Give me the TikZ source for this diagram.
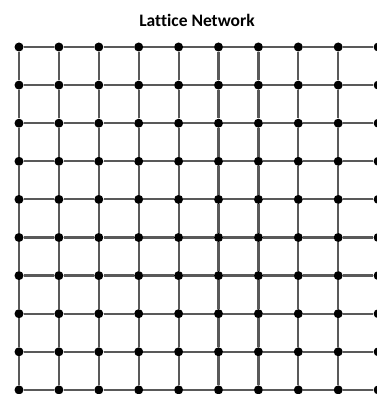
\documentclass[tikz,border=0pt]{standalone}
\usepackage{fontspec}
\setmainfont{Carlito}[Ligatures=NoCommon]
\usetikzlibrary{arrows}

\begin{document}
\begin{tikzpicture}[knoten/.style={circle, fill=black, inner sep=0pt, minimum size=9pt},
				kante/.style={draw=black!65, line width=2.2pt},
				x=1pt, y=1pt]
				% Bildbereich
				\useasboundingbox (0,0) rectangle (377,394);
				\clip (0,0) rectangle (377,394);
				% Ueberschrift
				\node[font=\bfseries\fontsize{17.5}{20}\selectfont] (titel) at (197,374) {Lattice Network};
				% Knoten setzen
				\foreach \i in {0,...,9}
					\foreach \j in {0,...,9}
						\node[knoten] (k-\i-\j) at ({19+39.9*\i},{347-38.1*\j}) {};
				% Kanten zeichnen (senkrecht und waagerecht)
				\foreach \i in {0,...,9}
					\foreach \j [count=\jj from 1] in {0,...,8} {
						\draw[kante] (k-\i-\j) -- (k-\i-\jj);
						\draw[kante] (k-\j-\i) -- (k-\jj-\i);
					}
\end{tikzpicture}
\end{document}
